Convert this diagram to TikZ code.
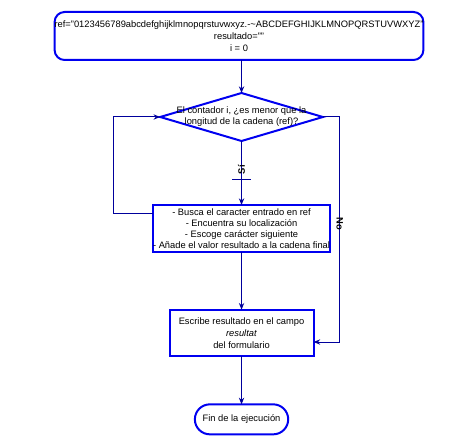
\documentclass[tikz,border=0pt]{standalone}
\usepackage{fontspec}
\setmainfont{Liberation Sans}
\definecolor{flowBlue}{HTML}{0000F0}
\definecolor{flowNavy}{HTML}{00009C}
\usetikzlibrary{shapes.geometric, arrows.meta, positioning}

\begin{document}
\begin{tikzpicture}[
  x=0.75pt, y=-0.75pt,
  font=\fontsize{7}{9}\selectfont,
  box/.style={draw=flowBlue, line width=1.5pt, align=center, inner sep=0pt, outer sep=0pt},
  terminal/.style={box, rounded corners=7.5pt},
  decision/.style={draw=flowBlue, line width=1.5pt, diamond, inner sep=0pt, outer sep=0pt,
    minimum width=122pt, minimum height=36pt},
  flow/.style={draw=flowNavy, line width=0.75pt},
  arr/.style={flow, -{Stealth[length=5pt, width=4pt]}},
  answer/.style={font=\fontsize{7}{9}\selectfont\bfseries, inner sep=1pt}]
  \useasboundingbox (0,0) rectangle (463,445);
  \node[terminal, minimum width=272pt, minimum height=36pt] (start) at (239,36)
    {ref="0123456789abcdefghijklmnopqrstuvwxyz.-\textasciitilde ABCDEFGHIJKLMNOPQRSTUVWXYZ"\\
     resultado=""\\ i = 0};
  \node[decision, below=24.75pt of start, xshift=1.9pt] (cond) {};
  \node[align=center, font=\fontsize{7}{8.25}\selectfont] (condtext) at (cond)
    {El contador i, ¿es menor que la\\longitud de la cadena (ref)?};
  \node[box, minimum width=131pt, minimum height=35pt,
    font=\fontsize{7}{8.25}\selectfont, below=48pt of cond] (busca)
    {- Busca el caracter entrado en ref\\
     - Encuentra su localización\\
     - Escoge carácter siguiente\\
     - Añade el valor resultado a la cadena final};
  \node[box, minimum width=108pt, minimum height=35pt, below=43.5pt of busca] (escribe)
    {Escribe resultado en el campo\\ \textit{resultat}\\ del formulario};
  \node[box, rounded corners=11.25pt, minimum width=70pt, minimum height=22.5pt,
    below=36pt of escribe] (fin) {Fin de la ejecución};
  % connectors
  \draw[arr] (cond.north |- start.south) -- (cond);
  \draw[arr] (cond) -- node[answer, rotate=90, pos=0.45] (si) {Sí} (busca);
  \draw[flow] ([shift={(-7pt,-7.5pt)}]si.center) -- ++(14pt,0);
  \draw[arr] ([yshift=11.25pt]busca.west) -- ++(-30pt,0) |- (cond.west);
  \draw[arr] (cond.east) -- ++(12.75pt,0) |- node[answer, rotate=-90, pos=0.25, xshift=-4pt] (no) {No}
    ([yshift=-6.75pt]escribe.east);
  \draw[arr] (busca) -- (escribe);
  \draw[arr] (escribe) -- (fin);
\end{tikzpicture}
\end{document}
